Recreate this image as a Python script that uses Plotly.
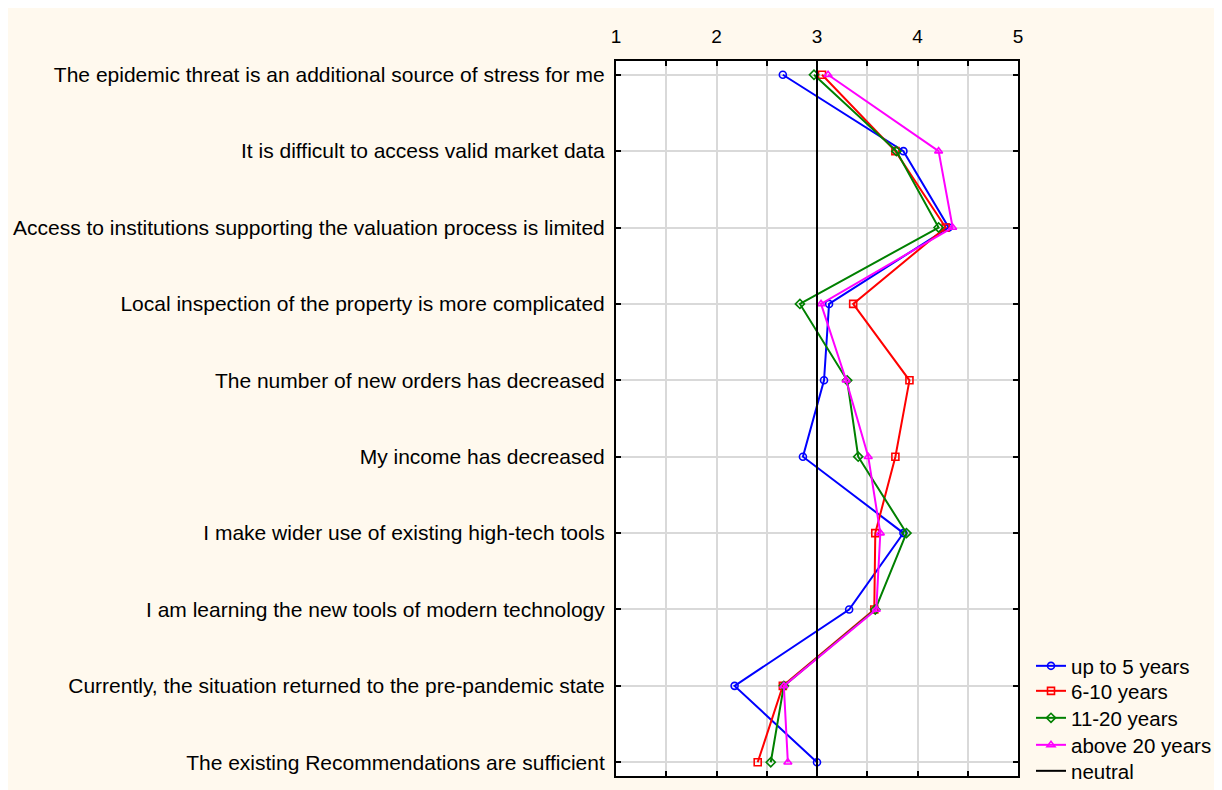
import plotly.graph_objects as go

categories = [
    "The epidemic threat is an additional source of stress for me",
    "It is difficult to access valid market data",
    "Access to institutions supporting the valuation process is limited",
    "Local inspection of the property is more complicated",
    "The number of new orders has decreased",
    "My income has decreased",
    "I make wider use of existing high-tech tools",
    "I am learning the new tools of modern technology",
    "Currently, the situation returned to the pre-pandemic state",
    "The existing Recommendations are sufficient",
]

up_to_5 = [2.66, 3.86, 4.31, 3.12, 3.07, 2.86, 3.86, 3.32, 2.18, 3.00]
y6_10 = [3.05, 3.78, 4.28, 3.36, 3.92, 3.78, 3.58, 3.57, 2.66, 2.41]
y11_20 = [2.97, 3.79, 4.21, 2.83, 3.30, 3.41, 3.89, 3.58, 2.67, 2.54]
above_20 = [3.11, 4.21, 4.35, 3.04, 3.29, 3.51, 3.63, 3.59, 2.67, 2.71]
neutral_value = 3

series = [
    ("up to 5 years", up_to_5, "#0000FF", "circle-open"),
    ("6-10 years", y6_10, "#FF0000", "square-open"),
    ("11-20 years", y11_20, "#008000", "diamond-open"),
    ("above 20 years", above_20, "#FF00FF", "triangle-up-open"),
]

x_ticks = [1, 1.5, 2, 2.5, 3, 3.5, 4, 4.5, 5]
x_ticktext = ["1", "", "2", "", "3", "", "4", "", "5"]

idx = list(range(len(categories)))
pad = 0.18
y_range = [len(categories) - 1 + pad, -pad]

FONT = "Liberation Sans, Arial, sans-serif"
W, H = 1222, 790
L, T = 608, 53
R, B = W - 1010, H - 768
pw, ph = W - L - R, H - T - B


def px_to_paper_x(px):
    return (px - L) / pw


def px_to_paper_y(py):
    return (H - B - py) / ph


legend_ids = ["legend", "legend2", "legend3", "legend4", "legend5"]
legend_rows_px = [658, 683, 710, 737, 763]

fig = go.Figure()
for i, (name, vals, color, sym) in enumerate(series):
    fig.add_trace(go.Scatter(
        x=vals, y=idx, name=name, mode="lines+markers",
        line=dict(color=color, width=2),
        marker=dict(symbol=sym, size=7, color=color, line=dict(color=color, width=1.6)),
        cliponaxis=False, legend=legend_ids[i],
    ))

fig.add_trace(go.Scatter(
    x=[neutral_value, neutral_value], y=y_range, name="neutral", mode="lines",
    line=dict(color="black", width=2), legend=legend_ids[4],
))

legend_common = dict(
    xanchor="left", yanchor="middle",
    bgcolor="rgba(0,0,0,0)", borderwidth=0,
    font=dict(family=FONT, size=20.5, color="black"),
    itemwidth=30,
)
legend_layout = {}
for lid, ypx in zip(legend_ids, legend_rows_px):
    legend_layout[lid] = dict(x=px_to_paper_x(1023), y=px_to_paper_y(ypx), **legend_common)

fig.update_layout(
    width=W, height=H,
    margin=dict(l=L, r=R, t=T, b=B, pad=0, autoexpand=False),
    paper_bgcolor="#FFF9EE",
    plot_bgcolor="white",
    font=dict(family=FONT, size=20.5, color="black"),
    showlegend=True,
    **legend_layout,
)

fig.update_xaxes(
    range=[1, 5], side="top",
    tickmode="array", tickvals=x_ticks, ticktext=x_ticktext,
    ticks="inside", ticklen=5, tickwidth=1.5, tickcolor="black",
    showgrid=True, gridcolor="#D9D9D9", gridwidth=2,
    showline=True, linecolor="black", linewidth=2, mirror="ticks",
    zeroline=False, ticklabelstandoff=8,
    tickfont=dict(family=FONT, size=19, color="black"),
)
fig.update_yaxes(
    range=y_range,
    tickmode="array", tickvals=idx, ticktext=categories,
    ticks="inside", ticklen=5, tickwidth=1.5, tickcolor="black",
    showgrid=True, gridcolor="#D9D9D9", gridwidth=2,
    showline=True, linecolor="black", linewidth=2, mirror="ticks",
    zeroline=False, ticklabelstandoff=5,
    tickfont=dict(family=FONT, size=21, color="black"),
)

fig.write_html("out.html")
